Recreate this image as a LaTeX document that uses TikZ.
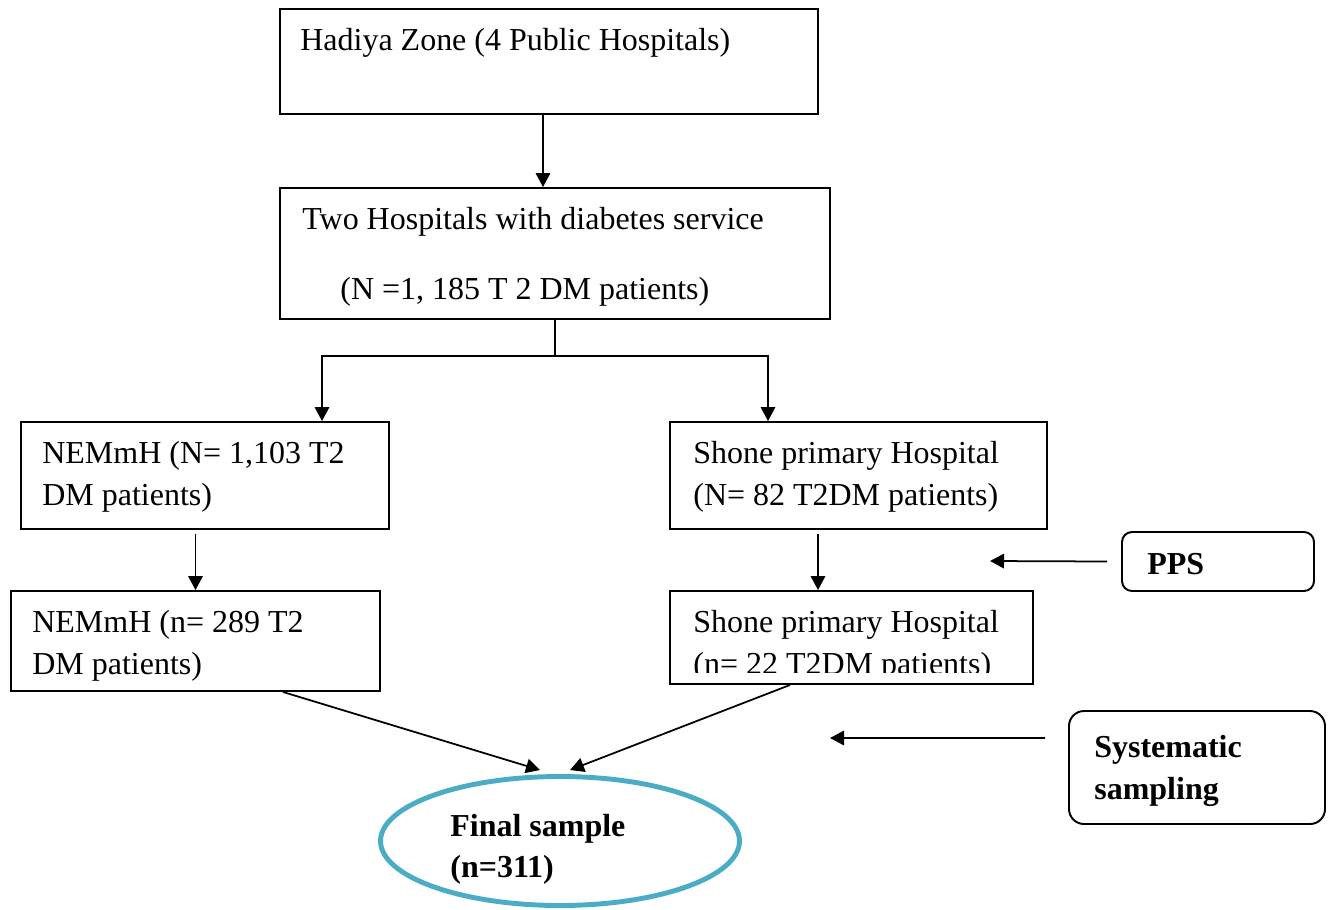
\documentclass[tikz,border=0pt]{standalone}
\usepackage{fontspec}
\setmainfont{Liberation Serif}
\usepackage{xcolor}
\usepackage{tikz}
\usetikzlibrary{shapes.geometric, arrows.meta, positioning, calc}
\definecolor{ovalcolor}{RGB}{75, 172, 198}

\begin{document}
\begin{tikzpicture}[
    box/.style={draw, line width=1.1pt, inner sep=0pt},
    tag/.style={draw, line width=1.1pt, inner sep=0pt, rounded corners=#1},
    txt/.style={anchor=base west, inner sep=0pt, font=\fontsize{18.2pt}{24pt}\selectfont},
    btxt/.style={txt, font=\fontsize{18.2pt}{24pt}\selectfont\bfseries},
    oval/.style={draw=ovalcolor, line width=2.8pt, ellipse, inner sep=0pt},
    arr/.style={-{Triangle[length=0.28cm, width=0.29cm]}, line width=1pt}
]
    \useasboundingbox (0, 0) rectangle (26.62, -18.18);

    % Zone
    \node[box, minimum width=10.76cm, minimum height=2.1cm] (hadiya) at (10.98, -1.23) {};
    \node[txt] (hadiyat) at (6.0, -1.0) {Hadiya Zone (4 Public Hospitals)};

    % Hospitals with diabetes service
    \node[box, minimum width=11cm, minimum height=2.62cm] (twohosp) at (11.1, -5.07) {};
    \node[txt] (twohospa) at (6.04, -4.58) {Two Hospitals with diabetes service};
    \node[txt] (twohospb) at (6.8, -5.98) {(N =1, 185 T 2 DM patients)};

    % Source populations
    \node[box, minimum width=7.36cm, minimum height=2.14cm] (nem1) at (4.1, -9.51) {};
    \node[txt] (nem1a) at (0.84, -9.26) {NEMmH (N= 1,103 T2};
    \node[txt] (nem1b) at (0.84, -10.1) {DM patients)};

    \node[box, minimum width=7.54cm, minimum height=2.14cm] (shone1) at (17.17, -9.51) {};
    \node[txt] (shone1a) at (13.86, -9.26) {Shone primary Hospital};
    \node[txt] (shone1b) at (13.86, -10.1) {(N= 82 T2DM patients)};

    % Samples
    \node[box, minimum width=7.38cm, minimum height=2cm] (nem2) at (3.91, -12.82) {};
    \node[txt] (nem2a) at (0.64, -12.64) {NEMmH (n= 289 T2};
    \node[txt] (nem2b) at (0.64, -13.48) {DM patients)};

    \node[box, minimum width=7.26cm, minimum height=1.86cm] (shone2) at (17.03, -12.75) {};
    \node[txt] (shone2a) at (13.86, -12.64) {Shone primary Hospital};
    \begin{scope}
        \clip (13.5, -12.9) rectangle (20.5, -13.45);
        \node[txt] (shone2b) at (13.86, -13.48) {(n= 22 T2DM patients)};
    \end{scope}

    % Methods
    \node[tag=0.2cm, minimum width=3.84cm, minimum height=1.18cm] (pps) at (24.36, -11.23) {};
    \node[btxt] (ppst) at (22.94, -11.48) {PPS};
    \coordinate (ppsend) at (19.8, -11.22);

    \node[tag=0.3cm, minimum width=5.12cm, minimum height=2.26cm] (sys) at (23.94, -15.35) {};
    \node[btxt] (sysa) at (21.88, -15.14) {Systematic};
    \node[btxt] (sysb) at (21.88, -15.98) {sampling};
    \coordinate (sysend) at (16.6, -14.76);

    % Final sample
    \node[oval, minimum width=7.18cm, minimum height=2.58cm] (final) at (11.2, -16.82) {};
    \node[btxt] (finala) at (9.0, -16.72) {Final sample};
    \node[btxt] (finalb) at (9.0, -17.54) {(n=311)};

    % Connections
    \draw[arr] ([xshift=-0.12cm]hadiya.south) -- ([xshift=-0.12cm]hadiya.south |- twohosp.north);
    \coordinate (split) at ($(twohosp.south) + (0, -0.72)$);
    \draw[line width=1pt] (twohosp.south) -- (split);
    \draw[arr] (split) -| ([xshift=2.34cm]nem1.north);
    \draw[arr] (split) -| ([xshift=-1.81cm]shone1.north);
    \draw[arr] ([yshift=-0.08cm]nem1.south -| nem2.north) -- (nem2.north);
    \draw[arr] ([xshift=-0.67cm, yshift=-0.08cm]shone2.north |- shone1.south) -- ([xshift=-0.67cm]shone2.north);
    \draw[arr] ([xshift=-0.28cm]pps.west) -- (ppsend);
    \draw[arr] ([shift={(-0.46, 0.59)}]sys.west) -- (sysend);
    \draw[arr] ([xshift=1.75cm]nem2.south) -- ([xshift=-0.4cm, yshift=0.08cm]final.north);
    \draw[arr] ([xshift=-1.23cm]shone2.south) -- ([xshift=0.2cm, yshift=0.08cm]final.north);

\end{tikzpicture}
\end{document}
